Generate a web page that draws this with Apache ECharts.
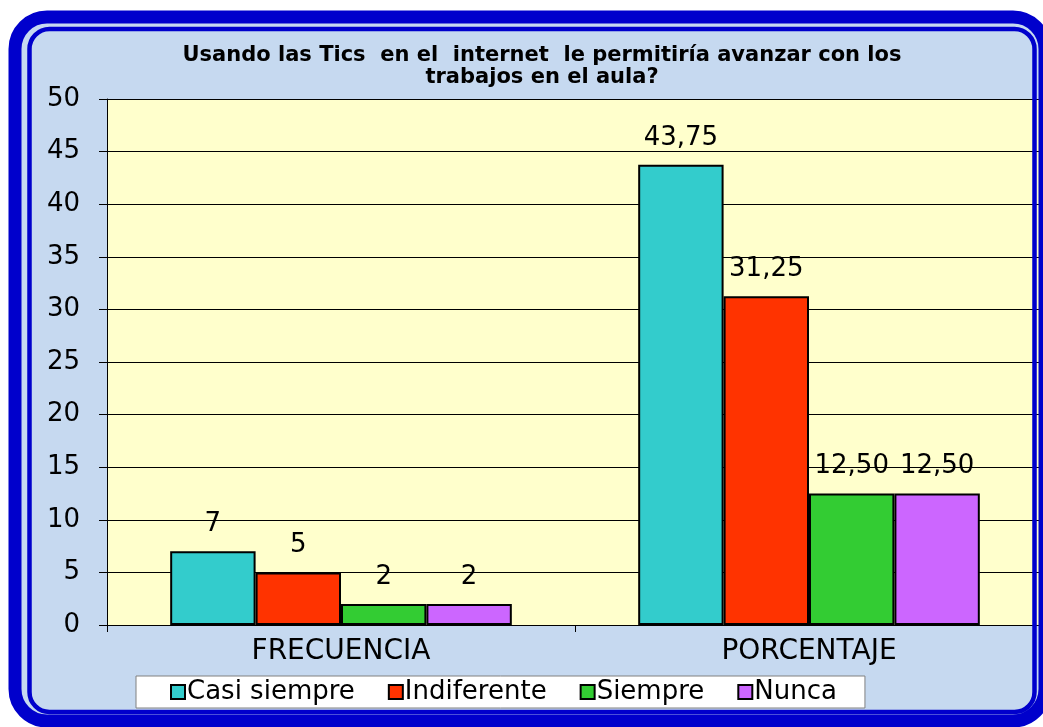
<!DOCTYPE html>
<html><head><meta charset="utf-8">
<script src="https://cdn.jsdelivr.net/npm/echarts@6/dist/echarts.min.js"></script>
<style>html,body{margin:0;padding:0;background:#fff;}#c{width:1043px;height:727px;}</style>
</head><body><div id="c"></div>
<script>
const categories = ['FRECUENCIA', 'PORCENTAJE'];
const seriesNames = ['Casi siempre', 'Indiferente', 'Siempre', 'Nunca'];
const casiSiempre = [7, 43.75];
const indiferente = [5, 31.25];
const siempre = [2, 12.5];
const nunca = [2, 12.5];
const yTicks = [0, 5, 10, 15, 20, 25, 30, 35, 40, 45, 50];
const titleLines = ['Usando las Tics  en el  internet  le permitiría avanzar con los', 'trabajos en el aula?'];
const colors = ['#33CCCC', '#FF3300', '#33CC33', '#CC66FF'];

const values = [casiSiempre, indiferente, siempre, nunca];
const font = '"DejaVu Sans", sans-serif';
const chart = echarts.init(document.getElementById('c'), null, {renderer: 'canvas'});

function fmt(p) {
  return p.dataIndex === 0 ? String(p.value) : p.value.toFixed(2).replace('.', ',');
}

chart.setOption({
  backgroundColor: 'transparent',
  animation: false,
  title: {
    text: titleLines.join('\n'),
    left: 537, top: 40, textAlign: 'center',
    textStyle: {fontFamily: font, fontWeight: 'bold', fontSize: 21, lineHeight: 22, color: '#000'}
  },
  graphic: [
    {type: 'rect', z: -10, shape: {x: 15, y: 17, width: 1030, height: 704, r: 32},
     style: {fill: '#C6D9F0', stroke: null}},
    {type: 'rect', z: 100, shape: {x: 15, y: 17, width: 1030, height: 704, r: 32},
     style: {fill: null, stroke: '#0000CC', lineWidth: 13}},
    {type: 'rect', z: 100, shape: {x: 29.5, y: 29, width: 1005, height: 683, r: 20},
     style: {fill: null, stroke: '#0000CC', lineWidth: 4.5}}
  ],
  legend: {
    data: seriesNames,
    left: 136, top: 676,
    backgroundColor: '#fff', borderColor: '#808080', borderWidth: 1,
    padding: [3, 28, 3, 34],
    itemGap: 33, itemWidth: 14, itemHeight: 14, icon: 'rect',
    textStyle: {fontFamily: font, fontSize: 26, color: '#000', padding: [0, 0, 0, -3]},
    itemStyle: {borderColor: '#000', borderWidth: 2}
  },
  grid: {left: 107, top: 99, right: 0, bottom: 102, show: true, backgroundColor: '#FFFFCC', borderWidth: 0},
  xAxis: {
    type: 'category', data: categories,
    axisLine: {lineStyle: {color: '#000', width: 1}},
    axisTick: {show: true, length: 7, lineStyle: {color: '#000'}},
    axisLabel: {fontFamily: font, fontSize: 28, color: '#000', margin: 13}
  },
  yAxis: {
    type: 'value', min: yTicks[0], max: yTicks[yTicks.length - 1], interval: 5,
    axisLine: {show: true, lineStyle: {color: '#000', width: 1}},
    axisTick: {show: true, length: 8, lineStyle: {color: '#000'}},
    axisLabel: {fontFamily: font, fontSize: 26, color: '#000', margin: 27},
    splitLine: {show: true, lineStyle: {color: '#000', width: 1}}
  },
  series: seriesNames.map((n, i) => ({
    name: n, type: 'bar', data: values[i],
    barGap: '0%', barCategoryGap: '27%',
    itemStyle: {color: colors[i], borderColor: '#000', borderWidth: 2},
    label: {show: true, position: 'top', distance: 14, formatter: fmt,
            fontFamily: font, fontSize: 26, color: '#000'}
  }))
});
</script></body></html>
